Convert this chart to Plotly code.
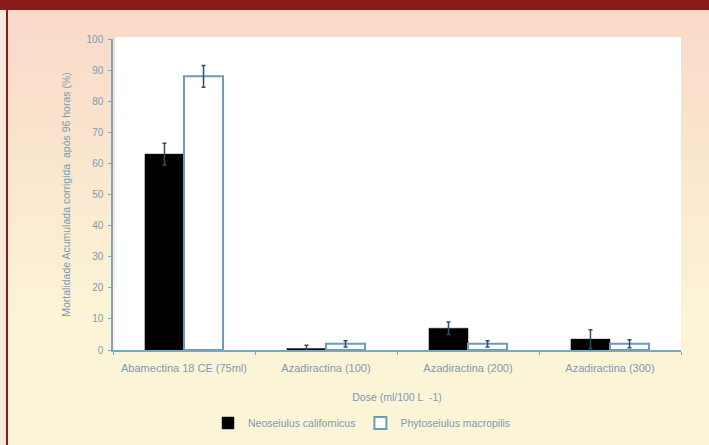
import plotly.graph_objects as go

categories = ["Abamectina 18 CE (75ml)", "Azadiractina (100)", "Azadiractina (200)", "Azadiractina (300)"]
neoseiulus = [63, 0.5, 7, 3.5]
neoseiulus_err = [3.5, 1.0, 2.0, 3.0]
phytoseiulus = [88, 2, 2, 2]
phytoseiulus_err = [3.5, 1.0, 1.0, 1.3]
y_ticks = list(range(0, 101, 10))

W, H = 709, 445
L, R, T, B = 113, 681, 39, 350  # plot area in pixels

def px_x(px):
    return (px - L) / (R - L)

def px_y(py):
    return (B - py) / (B - T)

shapes = []
# background gradient (peach -> cream)
top_c = (249, 217, 200)
bot_c = (252, 244, 214)
y0, y1 = 10, 320
n = 40
for i in range(n):
    a = y0 + (y1 - y0) * i / n
    b = y0 + (y1 - y0) * (i + 1) / n
    t = (i + 0.5) / n
    c = tuple(round(top_c[k] + (bot_c[k] - top_c[k]) * t) for k in range(3))
    shapes.append(dict(type="rect", xref="paper", yref="paper", layer="below",
                       x0=px_x(0), x1=px_x(W), y0=px_y(b + 0.5), y1=px_y(a),
                       fillcolor="rgb(%d,%d,%d)" % c, line=dict(width=0)))
shapes.append(dict(type="rect", xref="paper", yref="paper", layer="below",
                   x0=px_x(0), x1=px_x(W), y0=px_y(H), y1=px_y(y1),
                   fillcolor="rgb(%d,%d,%d)" % bot_c, line=dict(width=0)))
# left pale strip
shapes.append(dict(type="rect", xref="paper", yref="paper", layer="below",
                   x0=px_x(0), x1=px_x(6), y0=px_y(H), y1=px_y(0),
                   fillcolor="#FCE9DD", line=dict(width=0)))
# left red border line
shapes.append(dict(type="rect", xref="paper", yref="paper", layer="below",
                   x0=px_x(6), x1=px_x(8), y0=px_y(H), y1=px_y(10),
                   fillcolor="#8B1A1A", line=dict(width=0)))
# top red bar
shapes.append(dict(type="rect", xref="paper", yref="paper", layer="below",
                   x0=px_x(0), x1=px_x(W), y0=px_y(10), y1=px_y(0),
                   fillcolor="#8B1A1A", line=dict(width=0)))
# white plot area
shapes.append(dict(type="rect", xref="paper", yref="paper", layer="below",
                   x0=px_x(115), x1=px_x(R), y0=0, y1=px_y(37),
                   fillcolor="white", line=dict(width=0)))

txt = "#7d9bb0"
fig = go.Figure()
fig.add_trace(go.Bar(
    x=categories, y=neoseiulus, name="Neoseiulus californicus",
    marker=dict(color="black", line=dict(color="#1a1a1a", width=0.5)),
    error_y=dict(type="data", array=neoseiulus_err, color="#2f4f63", thickness=1.5, width=2),
))
fig.add_trace(go.Bar(
    x=categories, y=phytoseiulus, name="Phytoseiulus macropilis",
    marker=dict(color="white", line=dict(color="#6b9bb8", width=2)),
    error_y=dict(type="data", array=phytoseiulus_err, color="#2f4f63", thickness=1.5, width=2),
))

fig.update_layout(
    width=W, height=H,
    margin=dict(l=L, r=W - R, t=T, b=H - B, autoexpand=False),
    paper_bgcolor="rgb(252,244,214)", plot_bgcolor="white",
    font=dict(family="Liberation Sans, Arial, sans-serif", size=11, color=txt),
    barmode="group", bargap=0.45, bargroupgap=0,
    shapes=shapes,
    showlegend=True,
    legend=dict(orientation="h", xref="paper", yref="container",
                x=px_x(362), xanchor="center", y=1 - 423 / H, yanchor="middle",
                bgcolor="rgba(0,0,0,0)", font=dict(size=10.5, color=txt),
                itemwidth=30, tracegroupgap=0),
    xaxis=dict(
        showline=True, linecolor="#7aa6c0", linewidth=1.5,
        ticks="outside", tickson="boundaries", ticklen=3, tickcolor="#7aa6c0",
        ticklabelstandoff=7, tickfont=dict(size=11, color=txt),
        showgrid=False,
        title=dict(text="Dose (ml/100 L  -1)", standoff=21, font=dict(size=10.5, color=txt)),
    ),
    yaxis=dict(
        range=[0, 100], tickvals=y_ticks, ticks="outside", ticklen=3, tickcolor="#7aa6c0",
        ticklabelstandoff=3, tickfont=dict(size=10, color=txt),
        showline=True, linecolor="#7aa6c0", linewidth=1.5, showgrid=False, zeroline=False,
        title=dict(text="Mortalidade Acumulada corrigida  após 96 horas (%)", standoff=14,
                   font=dict(size=10.5, color=txt)),
    ),
)

fig.write_html("out.html")
